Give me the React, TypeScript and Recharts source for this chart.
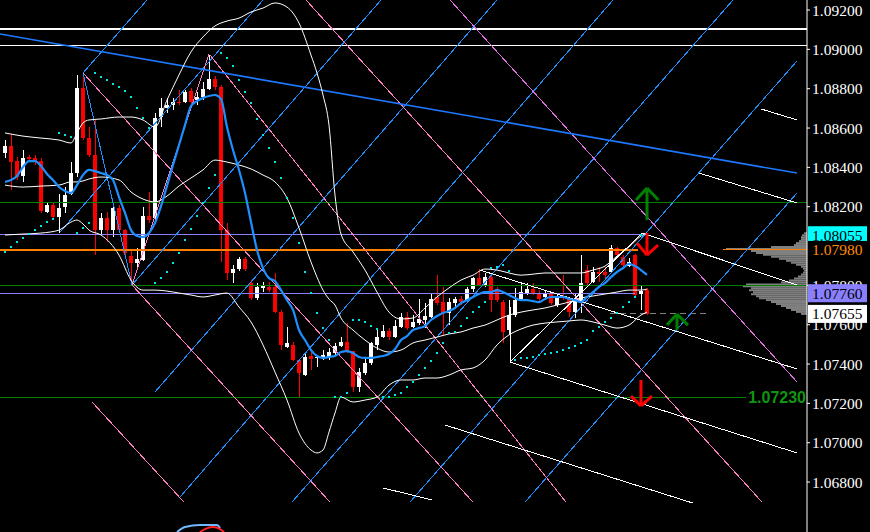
import {
  Bar,
  ComposedChart,
  Line,
  ReferenceArea,
  ReferenceLine,
  Scatter,
  XAxis,
  YAxis,
} from 'recharts';

// bar index window and price window of the plot
const X_MIN = -0.8333;
const X_MAX = 133.667;
const Y_MIN = 1.06546;
const Y_MAX = 1.09251;

const OPEN = [
  1.08473, 1.08509, 1.08432, 1.08356, 1.08453, 1.08448, 1.08432, 1.08173, 1.08209, 1.08148,
  1.08198, 1.08265, 1.08371, 1.08804, 1.08549, 1.08463, 1.08081, 1.08142, 1.08081, 1.08193,
  1.08081, 1.07949, 1.07914, 1.07929, 1.08153, 1.08142, 1.08656, 1.08702, 1.08717, 1.08732,
  1.08732, 1.08788, 1.08742, 1.08758, 1.08798, 1.08849, 1.08809, 1.08081, 1.07863, 1.07883,
  1.07934, 1.07812, 1.07736, 1.07787, 1.07792, 1.07792, 1.07664, 1.07486, 1.07497, 1.0742,
  1.07344, 1.07441, 1.07431, 1.07436, 1.07436, 1.07456, 1.07492, 1.07512, 1.07466, 1.07283,
  1.07354, 1.07405, 1.07497, 1.07537, 1.07568, 1.07537, 1.07588, 1.07639, 1.07588, 1.07609,
  1.07624, 1.07639, 1.07741, 1.07715, 1.07659, 1.0771, 1.07731, 1.07725, 1.07781, 1.07837,
  1.07797, 1.07842, 1.07781, 1.07715, 1.07573, 1.07649, 1.07731, 1.07761, 1.07781, 1.07761,
  1.07741, 1.07761, 1.077, 1.07746, 1.07736, 1.07664, 1.0771, 1.07878, 1.07817, 1.07868,
  1.07868, 1.07868, 1.0799, 1.07944, 1.07898, 1.07954, 1.07756, 1.07776,
];
const HIGH = [
  1.08539, 1.0857, 1.08453, 1.08488, 1.08463, 1.08463, 1.08448, 1.08224, 1.08224, 1.08265,
  1.083, 1.08427, 1.0887, 1.0888, 1.08605, 1.08641, 1.08168, 1.08173, 1.08209, 1.08209,
  1.08086, 1.0798, 1.0799, 1.08198, 1.08275, 1.08676, 1.08753, 1.08753, 1.08753, 1.08793,
  1.08793, 1.08804, 1.08783, 1.08834, 1.08971, 1.08865, 1.08819, 1.08117, 1.07903, 1.07944,
  1.07944, 1.07827, 1.07812, 1.07817, 1.07817, 1.07863, 1.07675, 1.07588, 1.07512, 1.07425,
  1.07461, 1.07471, 1.07446, 1.07471, 1.07481, 1.07507, 1.07537, 1.07609, 1.07466, 1.0738,
  1.07436, 1.07512, 1.07573, 1.07598, 1.07583, 1.07624, 1.07659, 1.07664, 1.07649, 1.07731,
  1.0771, 1.07761, 1.07853, 1.07792, 1.07736, 1.07741, 1.07746, 1.07792, 1.07842, 1.07883,
  1.07863, 1.07853, 1.07792, 1.07725, 1.07725, 1.07787, 1.07812, 1.07812, 1.07812, 1.07776,
  1.07776, 1.07766, 1.07761, 1.07853, 1.07741, 1.07761, 1.07954, 1.07903, 1.07893, 1.07893,
  1.07893, 1.08005, 1.07995, 1.07954, 1.07939, 1.07959, 1.07802, 1.07787,
];
const LOW = [
  1.08448, 1.08285, 1.08336, 1.08326, 1.08427, 1.08412, 1.08168, 1.08168, 1.08132, 1.08066,
  1.08168, 1.08259, 1.08351, 1.08539, 1.08453, 1.07954, 1.08056, 1.0802, 1.08046, 1.08066,
  1.07944, 1.07802, 1.07893, 1.07924, 1.08117, 1.08132, 1.08605, 1.08676, 1.08692, 1.08717,
  1.08727, 1.08707, 1.08717, 1.08742, 1.08793, 1.08793, 1.07919, 1.07827, 1.07812, 1.07873,
  1.07873, 1.07725, 1.07725, 1.07766, 1.07766, 1.07659, 1.07471, 1.07481, 1.07415, 1.07232,
  1.07339, 1.0737, 1.07385, 1.0742, 1.0742, 1.07446, 1.07486, 1.07456, 1.07258, 1.07258,
  1.07344, 1.07395, 1.07471, 1.07532, 1.07522, 1.07532, 1.07583, 1.07573, 1.07583, 1.07598,
  1.07583, 1.07634, 1.077, 1.07548, 1.07598, 1.0769, 1.077, 1.07715, 1.07766, 1.07797,
  1.07792, 1.07664, 1.07715, 1.07507, 1.07548, 1.07639, 1.07725, 1.07751, 1.07751, 1.07715,
  1.07725, 1.077, 1.0769, 1.07725, 1.07639, 1.07634, 1.07659, 1.07802, 1.07812, 1.07817,
  1.07827, 1.07863, 1.07939, 1.07893, 1.07893, 1.07741, 1.07675, 1.07649,
];
const CLOSE = [
  1.08509, 1.08427, 1.08351, 1.08448, 1.08442, 1.08427, 1.08178, 1.08209, 1.08148, 1.08193,
  1.08259, 1.08371, 1.08804, 1.08549, 1.08463, 1.08081, 1.08142, 1.08081, 1.08193, 1.08081,
  1.07964, 1.07914, 1.07934, 1.08153, 1.08132, 1.08651, 1.08702, 1.08717, 1.08732, 1.08727,
  1.08783, 1.08732, 1.08758, 1.08798, 1.08849, 1.08809, 1.08081, 1.07863, 1.07883, 1.07934,
  1.07883, 1.07736, 1.07792, 1.07797, 1.07776, 1.07664, 1.07497, 1.07507, 1.0742, 1.07354,
  1.07436, 1.07425, 1.07436, 1.07446, 1.07461, 1.07492, 1.07512, 1.07461, 1.07283, 1.07359,
  1.07405, 1.07507, 1.07537, 1.07568, 1.07537, 1.07593, 1.07639, 1.07583, 1.07614, 1.07629,
  1.07644, 1.07731, 1.0771, 1.07659, 1.07715, 1.07731, 1.07715, 1.07781, 1.07837, 1.07802,
  1.07842, 1.07725, 1.07725, 1.07563, 1.07649, 1.07725, 1.07766, 1.07781, 1.07761, 1.07731,
  1.07761, 1.0771, 1.07746, 1.07736, 1.07664, 1.07725, 1.07812, 1.07812, 1.07868, 1.07858,
  1.07853, 1.0799, 1.07954, 1.07903, 1.07919, 1.07751, 1.07771, 1.07655,
];

// fast moving average (blue)
const MA = [
  1.08326, 1.08336, 1.08356, 1.08402, 1.08432, 1.08432, 1.08407, 1.08366, 1.08336, 1.083,
  1.0828, 1.0827, 1.0831, 1.08361, 1.08387, 1.08381, 1.08371, 1.08361, 1.08336, 1.08249,
  1.08168, 1.08081, 1.08051, 1.08046, 1.08066, 1.08117, 1.08203, 1.08305, 1.08412, 1.08514,
  1.08615, 1.08712, 1.08737, 1.08753, 1.08763, 1.08768, 1.08748, 1.08605, 1.08488, 1.08387,
  1.0827, 1.08122, 1.0798, 1.07888, 1.07837, 1.07822, 1.07776, 1.07725, 1.07675, 1.07573,
  1.07522, 1.07471, 1.07441, 1.07431, 1.07436, 1.07441, 1.07461, 1.07466, 1.07456, 1.07436,
  1.07431, 1.07431, 1.07436, 1.07441, 1.07451, 1.07476, 1.07522, 1.07542, 1.07573, 1.07583,
  1.07593, 1.07624, 1.07644, 1.07659, 1.0767, 1.07685, 1.0771, 1.07725, 1.07741, 1.07756,
  1.07766, 1.07766, 1.07776, 1.07766, 1.07751, 1.07736, 1.07725, 1.07725, 1.0772, 1.07715,
  1.07731, 1.07741, 1.07741, 1.07741, 1.07731, 1.07725, 1.07715, 1.07741, 1.07766, 1.07792,
  1.07812, 1.07842, 1.07868, 1.07888, 1.07909, 1.07898, 1.07878, 1.07853,
];

// parabolic SAR, null where no dot is drawn
const SAR = [
  1.0797, 1.07995, 1.0802, 1.08041, 1.08061, 1.08081, 1.08102, 1.08122, 1.08137, 1.08575,
  1.08565, 1.08554, 1.08066, 1.08092, 1.08117, 1.0888, 1.08859, 1.08844, 1.08824, 1.08809,
  1.08788, 1.08758, 1.08702, 1.08651, 1.086, 1.07812, 1.07837, 1.07868, 1.07914, 1.07964,
  1.08031, 1.08086, 1.08153, 1.08219, 1.08295, 1.08361, 1.08981, 1.08956, 1.08915, 1.08844,
  1.08783, 1.08727, 1.08646, 1.08565, 1.08498, 1.08427, 1.08346, 1.08244, 1.08142, 1.08015,
  1.07868, 1.07761, 1.07659, 1.07583, 1.07522, 1.07232, 1.07232, 1.07253, 1.07624, 1.07624,
  1.07614, 1.07593, 1.07578, 1.07232, 1.07232, 1.07242, 1.07253, 1.07283, 1.07309, 1.07344,
  1.0738, 1.07415, 1.07456, 1.07507, 1.07558, 1.07563, 1.07593, 1.07634, 1.07664, 1.0769,
  1.07715, 1.07888, 1.07893, 1.07903, 1.07873, 1.0742, 1.07431, 1.07431, 1.07436, 1.07446,
  1.07451, 1.07456, 1.07461, 1.07471, 1.07481, 1.07492, 1.07507, 1.07522, 1.07568, 1.07588,
  1.07614, 1.07634, 1.07659, 1.0769, 1.07715, 1.07741, 1.08055, null,
];

// Bollinger bands, read at these bars
const BB_BARS = [
  0, 3, 6, 9, 11, 12, 13, 14, 16, 19, 21, 23, 25, 27, 29, 31, 33, 35, 37, 39, 41, 43, 45, 47, 49,
  51, 52, 53, 54, 55, 56, 58, 60, 62, 64, 66, 68, 70, 72, 74, 76, 78, 80, 82, 84, 86, 88, 90, 92,
  94, 96, 98, 100, 102, 104, 106, 107,
];
const BB_UPPER = [
  1.08575, 1.08559, 1.08549, 1.08539, 1.08524, 1.08575, 1.08626, 1.08641, 1.08646, 1.08656,
  1.08656, 1.08641, 1.08605, 1.08742, 1.0887, 1.08987, 1.09063, 1.09119, 1.09144, 1.09159,
  1.0919, 1.0921, 1.09236, 1.09215, 1.09134, 1.08971, 1.0888, 1.08768, 1.08615, 1.08259,
  1.08061, 1.0797, 1.07878, 1.07766, 1.07664, 1.07629, 1.07634, 1.07685, 1.07741, 1.07787,
  1.07827, 1.07852, 1.07883, 1.07878, 1.07863, 1.07852, 1.07857, 1.07863, 1.07863, 1.07863,
  1.07863, 1.07878, 1.07898, 1.07949, 1.07995, 1.08051, 1.08066,
];
const BB_MIDDLE = [
  1.0831, 1.083, 1.08305, 1.0831, 1.08326, 1.08326, 1.08331, 1.08341, 1.08351, 1.08336,
  1.08275, 1.08239, 1.08224, 1.08254, 1.08305, 1.08346, 1.08387, 1.08437, 1.08427, 1.08412,
  1.08392, 1.08361, 1.08326, 1.08244, 1.08092, 1.07919, 1.07842, 1.07776, 1.0773, 1.077,
  1.07634, 1.07573, 1.07522, 1.07481, 1.07461, 1.07471, 1.07507, 1.07522, 1.07537, 1.07553,
  1.07563, 1.07583, 1.07598, 1.07624, 1.07649, 1.07664, 1.07675, 1.07685, 1.077, 1.07715,
  1.07736, 1.07746, 1.07756, 1.07766, 1.07776, 1.07776, 1.07781,
];
const BB_LOWER = [
  1.08056, 1.08061, 1.08066, 1.08081, 1.08122, 1.08132, 1.08112, 1.08081, 1.08056, 1.07954,
  1.07827, 1.07776, 1.07776, 1.07771, 1.07761, 1.07751, 1.07741, 1.07751, 1.07761, 1.0769,
  1.07614, 1.07497, 1.07359, 1.07217, 1.07049, 1.06963, 1.06948, 1.06963, 1.07054, 1.07151,
  1.07232, 1.07207, 1.07217, 1.07232, 1.07293, 1.07319, 1.07319, 1.07329, 1.07329, 1.07344,
  1.0737, 1.0738, 1.0742, 1.07497, 1.07548, 1.07578, 1.07598, 1.07608, 1.07614, 1.07619,
  1.07624, 1.07614, 1.07598, 1.07583, 1.07598, 1.07649, 1.07664,
];

// volume profile on the right edge
const PROFILE_LEVELS = [
  1.0807, 1.0806, 1.0805, 1.0804, 1.0803, 1.0802, 1.0801, 1.08, 1.0799, 1.0798, 1.0797, 1.0796,
  1.0795, 1.0794, 1.0793, 1.0792, 1.0791, 1.079, 1.0789, 1.0788, 1.0787, 1.0786, 1.0785, 1.0784,
  1.0783, 1.0782, 1.0781, 1.078, 1.0779, 1.0778, 1.0777, 1.0776, 1.0775, 1.0774, 1.0773, 1.0772,
  1.0771, 1.077, 1.0769, 1.0768, 1.0767, 1.0766,
];
const PROFILE_VOLUME = [
  3, 5, 6, 6, 8, 11, 13, 36, 81, 56, 51, 44, 36, 28, 21, 16, 11, 6, 4, 3, 4, 6, 9, 13, 18, 26, 61,
  64, 56, 58, 54, 56, 51, 48, 41, 36, 31, 26, 21, 16, 11, 6,
];

// 1.08000 sits fully under the tags, as in the original
const AXIS_TICKS = [
  1.092, 1.09, 1.088, 1.086, 1.084, 1.082, 1.078, 1.076, 1.074, 1.072, 1.07, 1.068,
];
const PRICE_TAGS = [
  { value: 1.08055, bg: '#00ffff', fg: '#000000' },
  { value: 1.0798, bg: '#000000', fg: '#ff8c00' },
  { value: 1.0776, bg: '#8a80ff', fg: '#000000' },
  { value: 1.07655, bg: '#ffffff', fg: '#000000' },
];

// drawn objects: [bar, price, bar, price]
const GANN_RISING = [
  [13, 1.0888, 23.67, 1.09251],
  [9.17, 1.08071, 43, 1.09251],
  [21.17, 1.07802, 62.67, 1.09251],
  [25, 1.07258, 82, 1.09251],
  [29.17, 1.06724, 101.33, 1.09251],
  [47.83, 1.06698, 121.33, 1.09251],
  [67.5, 1.06698, 132, 1.08941],
  [86.67, 1.06698, 132, 1.0827],
  [13, 1.0888, 21.17, 1.07802],
];
const GANN_FALLING = [
  [14.5, 1.07207, 29.83, 1.06698],
  [21.17, 1.07802, 54.17, 1.06698],
  [13, 1.0888, 78, 1.06698],
  [34.17, 1.08971, 93.5, 1.06698],
  [50.17, 1.09251, 126.17, 1.06698],
  [21.17, 1.07802, 34, 1.08976],
];
const GANN_VIOLET = [[74.17, 1.09251, 132, 1.07309]];
const CHANNEL = [
  [84.17, 1.0769, 84.17, 1.0741],
  [84.17, 1.0741, 106.17, 1.08066],
  [84.17, 1.0741, 132, 1.06948],
  [106.17, 1.08066, 132, 1.07802],
  [79.17, 1.07878, 132, 1.07375],
  [73.33, 1.0709, 114.67, 1.06693],
  [63, 1.0677, 71.17, 1.06709],
  [115.67, 1.08371, 132, 1.08219],
  [126, 1.08697, 132, 1.08641],
];
const TREND = [-0.83, 1.09078, 132, 1.08371];

const ARROWS = [
  { color: '#008000', lines: [[107, 1.08132, 107, 1.08295], [105.17, 1.08234, 107, 1.08295], [108.9, 1.08234, 107, 1.08295]] },
  { color: '#ff0000', lines: [[107, 1.08066, 107, 1.07954], [105.33, 1.08015, 107, 1.07954], [108.83, 1.08005, 107, 1.07954]] },
  { color: '#008000', lines: [[112, 1.07573, 112, 1.07654], [110.33, 1.07598, 112, 1.07654], [113.83, 1.07598, 112, 1.07654]] },
  { color: '#ff0000', lines: [[106, 1.07319, 106, 1.07187], [104.33, 1.07237, 106, 1.07187], [107.83, 1.07237, 106, 1.07187]] },
];

// small curves peeking in at the bottom edge
const ARC_BLUE = [
  { k: 28.67, p: 1.06546 }, { k: 30, p: 1.06571 }, { k: 32.5, p: 1.06581 },
  { k: 35.33, p: 1.06581 }, { k: 35.83, p: 1.06566 },
];
const ARC_RED = [
  { k: 32.5, p: 1.06546 }, { k: 33.33, p: 1.06561 }, { k: 34.67, p: 1.06571 },
  { k: 35.83, p: 1.06561 }, { k: 36.5, p: 1.06546 },
];

const candles = OPEN.map((open, i) => ({
  k: i,
  open,
  high: HIGH[i],
  low: LOW[i],
  close: CLOSE[i],
  ma: MA[i],
}));
const sarDots = SAR.map((p, i) => ({ k: i, p })).filter((d) => d.p != null);
const bands = BB_BARS.map((k, i) => ({ k, up: BB_UPPER[i], mid: BB_MIDDLE[i], lo: BB_LOWER[i] }));
const LABEL_FONT = "'Liberation Serif', 'Times New Roman', serif";

function Candle(props: any) {
  const { x, y, width, height, payload } = props;
  if (!payload || !Number.isFinite(y)) return null;
  const { open, high, low, close } = payload;
  const color = close >= open ? '#ffffff' : '#ff0000';
  const cx = Math.round(x + width / 2);
  const span = high - low || 1;
  const toY = (p: number) => y + ((high - p) / span) * height;
  const top = Math.round(toY(Math.max(open, close)));
  const bottom = Math.round(toY(Math.min(open, close)));
  return (
    <g>
      <rect x={cx} y={Math.round(y)} width={1} height={Math.max(1, Math.round(height))} fill={color} />
      <rect x={cx - 2} y={top} width={4} height={Math.max(1, bottom - top)} fill={color} />
    </g>
  );
}

function SarDot(props: any) {
  const { cx, cy } = props;
  return <rect x={Math.round(cx) - 1} y={Math.round(cy) - 1} width={2} height={2} fill="#00e5e5" />;
}

function LevelText(props: any) {
  const { cx, cy } = props;
  return (
    <text
      x={cx}
      y={cy}
      dominantBaseline="central"
      textAnchor="end"
      fill="#0f960f"
      fontFamily="'Liberation Sans', Arial, sans-serif"
      fontWeight="bold"
      fontSize={16}
    >
      1.07230
    </text>
  );
}

function PriceTick(props: any) {
  const { x, y, payload } = props;
  const tag = PRICE_TAGS.find((t) => t.value === payload.value);
  const text = Number(payload.value).toFixed(5);
  if (tag) {
    return (
      <g>
        <rect x={x + 1} y={y - 9} width={59} height={18} fill={tag.bg} />
        <text x={x + 5} y={y} dominantBaseline="central" fill={tag.fg} fontFamily={LABEL_FONT} fontSize={15.5}>
          {text}
        </text>
      </g>
    );
  }
  return (
    <g>
      <line x1={x} x2={x + 3} y1={y} y2={y} stroke="#ffffff" />
      <text x={x + 5} y={y} dominantBaseline="central" fill="#ffffff" fontFamily={LABEL_FONT} fontSize={15.5}>
        {text}
      </text>
    </g>
  );
}

function seg(s: number[], stroke: string, key: string, width = 1) {
  return (
    <ReferenceLine
      key={key}
      segment={[{ x: s[0], y: s[1] }, { x: s[2], y: s[3] }]}
      stroke={stroke}
      strokeWidth={width}
      shapeRendering={width < 1.5 ? 'crispEdges' : undefined}
      ifOverflow="hidden"
    />
  );
}

export default function App() {
  return (
    <div style={{ width: 870, height: 532, background: '#000000' }}>
      <style>{'body { margin: 0; background: #000; }'}</style>
      <ComposedChart width={870} height={532} data={candles} margin={{ top: 0, right: 0, bottom: 0, left: 0 }}>
        <XAxis dataKey="k" type="number" domain={[X_MIN, X_MAX]} allowDataOverflow hide />
        <YAxis
          orientation="right"
          type="number"
          domain={[Y_MIN, Y_MAX]}
          allowDataOverflow
          width={63}
          ticks={[...AXIS_TICKS, ...PRICE_TAGS.map((t) => t.value)]}
          interval={0}
          tickSize={0}
          tickMargin={0}
          tickLine={false}
          axisLine={{ stroke: '#ffffff' }}
          tick={<PriceTick />}
        />

        {PROFILE_LEVELS.map((level, i) => (
          <ReferenceArea
            key={`vp${i}`}
            x1={X_MAX - PROFILE_VOLUME[i] / 6}
            x2={X_MAX}
            y1={level - 0.0001}
            y2={level}
            fill="#808080"
            fillOpacity={1}
            stroke="none"
            ifOverflow="visible"
          />
        ))}

        <ReferenceLine y={1.09104} stroke="#ffffff" strokeWidth={2} />
        <ReferenceLine y={1.09022} stroke="#ffffff" shapeRendering="crispEdges" />
        <ReferenceLine y={1.0822} stroke="#008000" shapeRendering="crispEdges" />
        <ReferenceLine y={1.078} stroke="#008000" shapeRendering="crispEdges" />
        {seg([X_MIN, 1.08061, 106.17, 1.08061], '#8a80ff', 'pu1')}
        {seg([X_MIN, 1.07761, 105, 1.07761], '#8a80ff', 'pu2')}
        {seg([X_MIN, 1.0798, 105.5, 1.0798], '#ff8000', 'or1', 2)}
        {seg([119.67, 1.0798, X_MAX, 1.0798], '#ff8000', 'or2')}
        {seg([X_MIN, 1.0723, 123.5, 1.0723], '#008000', 'gr1')}
        <ReferenceLine
          segment={[{ x: 100.83, y: 1.07655 }, { x: 117.17, y: 1.07655 }]}
          stroke="#808080"
          strokeDasharray="6 4"
          shapeRendering="crispEdges"
          ifOverflow="hidden"
        />

        {GANN_RISING.map((s, i) => seg(s, '#1e90ff', `gu${i}`))}
        {GANN_FALLING.map((s, i) => seg(s, '#ff80c0', `gf${i}`))}
        {GANN_VIOLET.map((s, i) => seg(s, '#e070e0', `gv${i}`))}
        {CHANNEL.map((s, i) => seg(s, '#ffffff', `ch${i}`))}
        {seg(TREND, '#1e78ff', 'trend', 1.6)}

        <Line data={bands} dataKey="up" type="monotone" stroke="#ffffff" strokeWidth={1} dot={false} activeDot={false} isAnimationActive={false} />
        <Line data={bands} dataKey="mid" type="monotone" stroke="#ffffff" strokeWidth={1} dot={false} activeDot={false} isAnimationActive={false} />
        <Line data={bands} dataKey="lo" type="monotone" stroke="#ffffff" strokeWidth={1} dot={false} activeDot={false} isAnimationActive={false} />

        <Bar dataKey={(d: any) => [d.low, d.high]} barSize={4} shape={<Candle />} isAnimationActive={false} />
        <Line dataKey="ma" type="monotone" stroke="#1e8fff" strokeWidth={2.2} dot={false} activeDot={false} isAnimationActive={false} />
        <Scatter data={sarDots} dataKey="p" shape={<SarDot />} isAnimationActive={false} />

        {ARROWS.map((a, i) => a.lines.map((s, j) => seg(s, a.color, `ar${i}-${j}`, 3)))}
        <Line data={ARC_BLUE} dataKey="p" type="monotone" stroke="#70b8ff" strokeWidth={2} dot={false} activeDot={false} isAnimationActive={false} />
        <Line data={ARC_RED} dataKey="p" type="monotone" stroke="#ff2020" strokeWidth={2} dot={false} activeDot={false} isAnimationActive={false} />
        <Scatter data={[{ k: 133.5, p: 1.0723 }]} dataKey="p" shape={<LevelText />} isAnimationActive={false} />
      </ComposedChart>
    </div>
  );
}
